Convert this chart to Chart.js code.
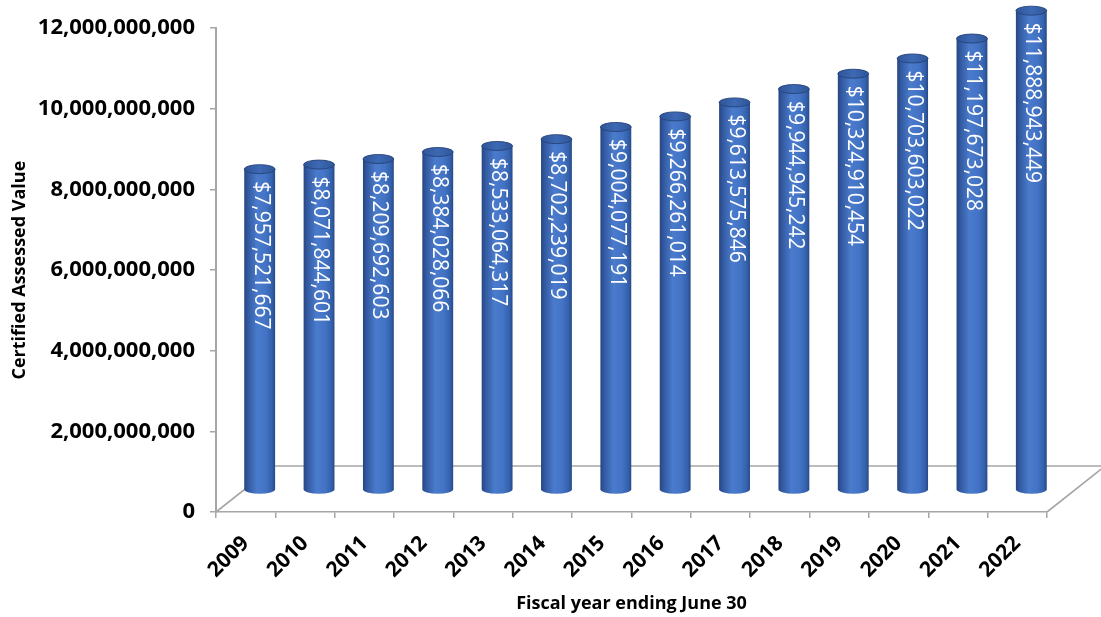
<!DOCTYPE html>
<html>
<head>
<meta charset="utf-8">
<title>Certified Assessed Value</title>
<script src="https://cdn.jsdelivr.net/npm/chart.js@4.4.1/dist/chart.umd.min.js"></script>
<style>
  html, body { margin: 0; padding: 0; background: #ffffff; }
  #wrap { width: 1101px; height: 617px; }
</style>
</head>
<body>
<div id="wrap"><canvas id="chart" width="1101" height="617"></canvas></div>
<script>
// Fiscal years (ending June 30) and certified assessed values in dollars
const fiscalYears = ['2009', '2010', '2011', '2012', '2013', '2014', '2015',
                     '2016', '2017', '2018', '2019', '2020', '2021', '2022'];
const assessedValues = [7957521667, 8071844601, 8209692603, 8384028066, 8533064317,
                        8702239019, 9004077191, 9266261014, 9613575846, 9944945242,
                        10324910454, 10703603022, 11197673028, 11888943449];
const valueTicks = [0, 2000000000, 4000000000, 6000000000, 8000000000, 10000000000, 12000000000];

const AXIS_GREY = '#a6a6a6';
// Oblique offset of the floor's back edge and of the column centres
const FLOOR_DEPTH = { dx: 58, dy: -46 };
const COLUMN_DEPTH = { dx: 14, dy: -22 };

const fmt = v => v.toLocaleString('en-US');

// Floor outline: left diagonal, back edge and right diagonal
const floorPlugin = {
  id: 'floor3d',
  beforeDatasetsDraw(chart) {
    const { ctx, chartArea: a } = chart;
    ctx.save();
    ctx.strokeStyle = AXIS_GREY;
    ctx.lineWidth = 1.6;
    ctx.beginPath();
    ctx.moveTo(a.left, a.bottom);
    ctx.lineTo(a.left + FLOOR_DEPTH.dx, a.bottom + FLOOR_DEPTH.dy);
    ctx.lineTo(a.right + FLOOR_DEPTH.dx, a.bottom + FLOOR_DEPTH.dy);
    ctx.lineTo(a.right, a.bottom);
    ctx.stroke();
    ctx.restore();
  }
};

// Draws each bar element as a shaded cylinder with its value written inside
const cylinderPlugin = {
  id: 'cylinders',
  afterDatasetsDraw(chart) {
    const { ctx } = chart;
    const meta = chart.getDatasetMeta(0);
    const values = chart.data.datasets[0].data;
    meta.data.forEach((bar, i) => {
      const p = bar.getProps(['x', 'y', 'base', 'width'], true);
      const cx = p.x + COLUMN_DEPTH.dx;
      const top = p.y + COLUMN_DEPTH.dy;
      const base = p.base + COLUMN_DEPTH.dy;
      const rx = p.width / 2;
      const ry = 4.5;
      const x0 = cx - rx, x1 = cx + rx;

      const body = ctx.createLinearGradient(x0, 0, x1, 0);
      body.addColorStop(0, '#274581');
      body.addColorStop(0.12, '#3259a0');
      body.addColorStop(0.42, '#4a7bcc');
      body.addColorStop(0.7, '#4373c4');
      body.addColorStop(0.9, '#3361ac');
      body.addColorStop(1, '#284886');

      ctx.save();
      // side wall with rounded bottom
      ctx.beginPath();
      ctx.moveTo(x0, top);
      ctx.lineTo(x0, base);
      ctx.ellipse(cx, base, rx, ry, 0, Math.PI, 0, true);
      ctx.lineTo(x1, top);
      ctx.closePath();
      ctx.fillStyle = body;
      ctx.fill();

      // top cap
      ctx.beginPath();
      ctx.ellipse(cx, top, rx, ry, 0, 0, Math.PI * 2);
      const cap = ctx.createLinearGradient(x0, 0, x1, 0);
      cap.addColorStop(0, '#2f5597');
      cap.addColorStop(0.5, '#3d69b4');
      cap.addColorStop(1, '#2f5597');
      ctx.fillStyle = cap;
      ctx.fill();
      ctx.lineWidth = 1;
      ctx.strokeStyle = 'rgba(38, 66, 122, 0.9)';
      ctx.stroke();

      // value label, rotated to read downwards
      ctx.translate(cx + 1, top + 12);
      ctx.rotate(Math.PI / 2);
      ctx.fillStyle = '#ffffff';
      ctx.font = '21px "Open Sans"';
      ctx.textAlign = 'left';
      ctx.textBaseline = 'middle';
      ctx.fillText('$' + fmt(values[i]), 0, 0);
      ctx.restore();
    });
  }
};

new Chart(document.getElementById('chart'), {
  type: 'bar',
  data: {
    labels: fiscalYears,
    datasets: [{
      label: 'Certified Assessed Value',
      data: assessedValues,
      backgroundColor: 'rgba(0,0,0,0)',
      borderWidth: 0,
      categoryPercentage: 1,
      barPercentage: 0.52
    }]
  },
  options: {
    responsive: false,
    animation: false,
    layout: { padding: { top: 28, right: 54, left: 0, bottom: 0 } },
    plugins: {
      legend: { display: false },
      tooltip: { enabled: false }
    },
    scales: {
      x: {
        grid: { display: true, drawOnChartArea: false, offset: true, color: AXIS_GREY, tickLength: 6, lineWidth: 1.5 },
        border: { display: true, color: AXIS_GREY, width: 1.6 },
        ticks: {
          color: '#000000',
          font: { family: '"Open Sans"', size: 21, weight: 'bold' },
          maxRotation: 45, minRotation: 45,
          autoSkip: false,
          padding: 13
        },
        title: {
          display: true,
          text: 'Fiscal year ending June 30',
          color: '#000000',
          font: { family: '"Open Sans"', size: 18, weight: 'bold' },
          padding: { top: 0, bottom: 2 }
        },
        afterFit(scale) { scale.height = 105; }
      },
      y: {
        min: 0,
        max: 12000000000,
        afterBuildTicks(scale) { scale.ticks = valueTicks.map(v => ({ value: v })); },
        grid: { display: true, drawOnChartArea: false, color: AXIS_GREY, tickLength: 6, lineWidth: 1.5 },
        border: { display: true, color: AXIS_GREY, width: 2 },
        ticks: {
          color: '#000000',
          font: { family: '"Open Sans"', size: 22, weight: 'bold' },
          padding: 15,
          callback: v => fmt(v)
        },
        title: {
          display: true,
          text: 'Certified Assessed Value',
          color: '#000000',
          font: { family: '"Open Sans"', size: 18, weight: 'bold' },
          padding: { top: 9, bottom: 0 }
        },
        afterFit(scale) { scale.width = 216; }
      }
    }
  },
  plugins: [floorPlugin, cylinderPlugin]
});
</script>
</body>
</html>
